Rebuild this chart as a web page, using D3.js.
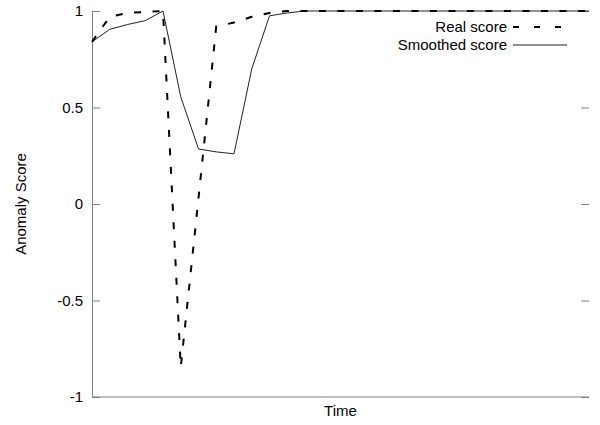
<!DOCTYPE html>
<html>
<head>
<meta charset="utf-8">
<script src="https://cdn.jsdelivr.net/npm/d3@7"></script>
<style>
  body { margin: 0; background: #fff; }
  text { font-family: "Liberation Sans", Arial, sans-serif; }
</style>
</head>
<body>
<svg id="chart" width="600" height="425"></svg>
<script>
// time steps (no labels on the x axis)
const timeSteps = d3.range(29);
const realScore = [0.84, 0.97, 0.99, 0.995, 1.0, -0.845, 0.03, 0.92, 0.94, 0.97, 0.99, 1.0, 1.0,
  1.0, 1.0, 1.0, 1.0, 1.0, 1.0, 1.0, 1.0, 1.0, 1.0, 1.0, 1.0, 1.0, 1.0, 1.0, 1.0];
const smoothedScore = [0.84, 0.905, 0.93, 0.95, 1.0, 0.555, 0.285, 0.27, 0.26, 0.70, 0.975, 0.99, 1.0,
  1.0, 1.0, 1.0, 1.0, 1.0, 1.0, 1.0, 1.0, 1.0, 1.0, 1.0, 1.0, 1.0, 1.0, 1.0, 1.0];
const yTicks = [-1, -0.5, 0, 0.5, 1];
const yTickLabels = ["-1", "-0.5", "0", "0.5", "1"];

const svg = d3.select("#chart");
const mLeft = 92, mRight = 589, mTop = 11, mBottom = 397;

const x = d3.scaleLinear().domain([0, 28]).range([mLeft, mRight]);
const y = d3.scaleLinear().domain([-1, 1]).range([mBottom, mTop]);

// left axis, ticks pointing inward
const yAxis = svg.append("g")
  .attr("transform", `translate(${mLeft},0)`)
  .call(d3.axisLeft(y).tickValues(yTicks).tickFormat((d, i) => yTickLabels[i])
    .tickSizeInner(-8).tickSizeOuter(0).tickPadding(9));
yAxis.select(".domain").attr("stroke", "#808080");
yAxis.selectAll(".tick line").attr("stroke", "#808080");
yAxis.selectAll(".tick text").attr("font-size", 15).attr("fill", "#000")
  .attr("font-family", "Liberation Sans, Arial, sans-serif");

// right ticks only
const yAxisR = svg.append("g")
  .attr("transform", `translate(${mRight},0)`)
  .call(d3.axisRight(y).tickValues(yTicks).tickFormat("").tickSizeInner(-8).tickSizeOuter(0));
yAxisR.select(".domain").remove();
yAxisR.selectAll(".tick line").attr("stroke", "#808080");

// bottom line
svg.append("line")
  .attr("x1", mLeft).attr("x2", mRight)
  .attr("y1", mBottom).attr("y2", mBottom)
  .attr("stroke", "#808080");

const line = d3.line()
  .x((d, i) => x(timeSteps[i]))
  .y(d => y(d));

svg.append("path")
  .datum(smoothedScore)
  .attr("fill", "none")
  .attr("stroke", "#222")
  .attr("stroke-width", 1)
  .attr("d", line);

svg.append("path")
  .datum(realScore)
  .attr("fill", "none")
  .attr("stroke", "#000")
  .attr("stroke-width", 2)
  .attr("stroke-dasharray", "7,11.5")
  .attr("d", line);

// legend
const legend = [
  { label: "Real score", dash: "6,15", w: 2, y: 27 },
  { label: "Smoothed score", dash: null, w: 1, y: 45 }
];
legend.forEach(l => {
  svg.append("text")
    .attr("x", 507).attr("y", l.y)
    .attr("dy", "0.35em")
    .attr("text-anchor", "end")
    .attr("font-size", 15)
    .text(l.label);
  svg.append("line")
    .attr("x1", 513).attr("x2", l.dash ? 561 : 567)
    .attr("y1", l.y).attr("y2", l.y)
    .attr("stroke", l.dash ? "#000" : "#222")
    .attr("stroke-width", l.w)
    .attr("stroke-dasharray", l.dash);
});

// axis titles
svg.append("text")
  .attr("transform", `translate(21,${(mTop + mBottom) / 2}) rotate(-90)`)
  .attr("text-anchor", "middle")
  .attr("dy", "0.35em")
  .attr("font-size", 15)
  .text("Anomaly Score");

svg.append("text")
  .attr("x", (mLeft + mRight) / 2)
  .attr("y", 411)
  .attr("dy", "0.35em")
  .attr("text-anchor", "middle")
  .attr("font-size", 15)
  .text("Time");
</script>
</body>
</html>
